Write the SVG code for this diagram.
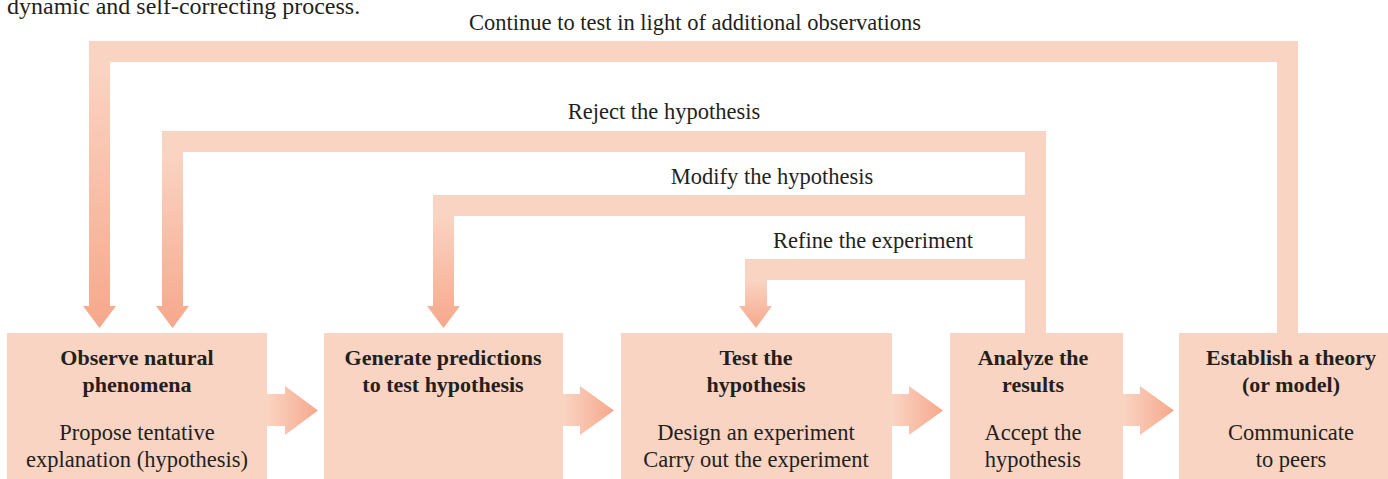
<svg xmlns="http://www.w3.org/2000/svg" width="1388" height="479" viewBox="0 0 1388 479">
<style>
.box{fill:#FAD4C3}
.bar{fill:#FAD4C3}
.t{font-family:"Liberation Serif","DejaVu Serif",serif;font-size:22.5px;fill:#231f20}
.c{text-anchor:middle}
.b{font-weight:bold;font-size:22px}
</style>
<defs>
<linearGradient id="gv" x1="0" y1="0" x2="0" y2="1">
<stop offset="0" stop-color="#FAD4C3"/>
<stop offset="1" stop-color="#F6A88B"/>
</linearGradient>
<linearGradient id="gh" x1="0" y1="0" x2="1" y2="0">
<stop offset="0" stop-color="#FAD4C3"/>
<stop offset="1" stop-color="#F6A88B"/>
</linearGradient>
</defs>
<text class="t" x="7" y="14" style="font-size:24px">dynamic and self-correcting process.</text>
<g id="connectors">
<rect class="bar" x="89" y="41" width="1209" height="21"/>
<rect class="bar" x="1277" y="41" width="21" height="292"/>
<polygon fill="url(#gv)" points="89,62 110,62 110,306 116,306 99.5,328 83,306 89,306"/>
<rect class="bar" x="162" y="131" width="884" height="21"/>
<rect class="bar" x="1025" y="131" width="21" height="202"/>
<polygon fill="url(#gv)" points="162,152 183,152 183,306 189,306 172.5,328 156,306 162,306"/>
<rect class="bar" x="433" y="195" width="600" height="21"/>
<polygon fill="url(#gv)" points="433,216 454,216 454,306 460,306 443.5,328 427,306 433,306"/>
<rect class="bar" x="745" y="259" width="288" height="21"/>
<polygon fill="url(#gv)" points="745,280 767,280 767,306 772,306 756,328 739,306 745,306"/>
<polygon fill="url(#gh)" points="267,394 285,394 285,386 318,410.5 285,435 285,426 267,426"/>
<polygon fill="url(#gh)" points="563,394 580,394 580,386 614,410.5 580,435 580,426 563,426"/>
<polygon fill="url(#gh)" points="892,394 909,394 909,386 943,410.5 909,435 909,426 892,426"/>
<polygon fill="url(#gh)" points="1123,394 1140,394 1140,386 1174,410.5 1140,435 1140,426 1123,426"/>
<text class="t c" x="695" y="30">Continue to test in light of additional observations</text>
<text class="t c" x="664" y="119">Reject the hypothesis</text>
<text class="t c" x="772" y="184">Modify the hypothesis</text>
<text class="t c" x="873" y="248">Refine the experiment</text>
</g>
<g id="observe">
<rect class="box" x="7" y="333" width="260" height="146"/>
<text class="t c b" x="137" y="365">Observe natural</text>
<text class="t c b" x="137" y="392">phenomena</text>
<text class="t c" x="137" y="440">Propose tentative</text>
<text class="t c" x="137" y="467">explanation (hypothesis)</text>
</g>
<g id="generate">
<rect class="box" x="324" y="333" width="239" height="146"/>
<text class="t c b" x="443" y="365">Generate predictions</text>
<text class="t c b" x="443" y="392">to test hypothesis</text>
</g>
<g id="test">
<rect class="box" x="621" y="333" width="271" height="146"/>
<text class="t c b" x="756" y="365">Test the</text>
<text class="t c b" x="756" y="392">hypothesis</text>
<text class="t c" x="756" y="440">Design an experiment</text>
<text class="t c" x="756" y="467">Carry out the experiment</text>
</g>
<g id="analyze">
<rect class="box" x="950" y="333" width="173" height="146"/>
<text class="t c b" x="1033" y="365">Analyze the</text>
<text class="t c b" x="1033" y="392">results</text>
<text class="t c" x="1033" y="440">Accept the</text>
<text class="t c" x="1033" y="467">hypothesis</text>
</g>
<g id="establish">
<rect class="box" x="1179" y="333" width="209" height="146"/>
<text class="t c b" x="1291" y="365">Establish a theory</text>
<text class="t c b" x="1291" y="392">(or model)</text>
<text class="t c" x="1291" y="440">Communicate</text>
<text class="t c" x="1291" y="467">to peers</text>
</g>
</svg>
